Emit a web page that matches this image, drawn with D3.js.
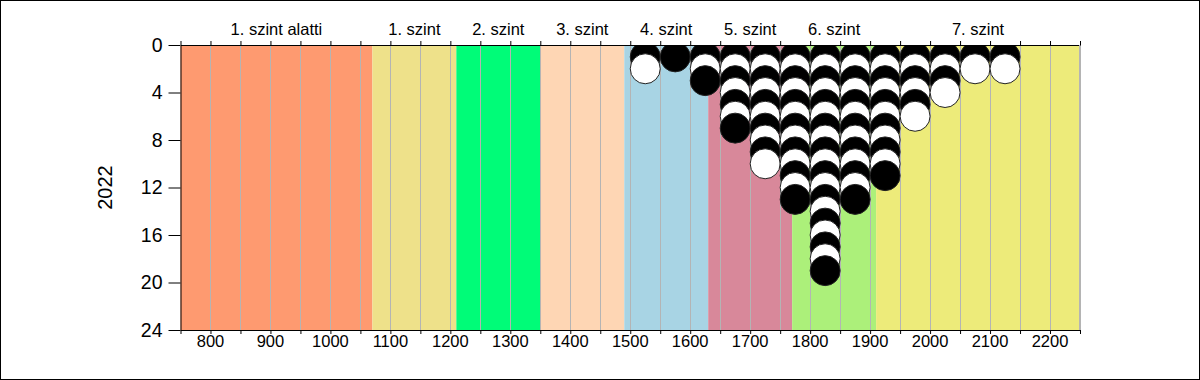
<!DOCTYPE html>
<html><head><meta charset="utf-8">
<script src="https://cdn.jsdelivr.net/npm/d3@7"></script>
<style>body{margin:0;background:#fff;} svg{display:block;font-family:"Liberation Sans",Arial,sans-serif;}</style>
</head><body>
<svg id="chart" width="1200" height="380"></svg>
<script>
// Level bands
const bandNames = ["1. szint alatti","1. szint","2. szint","3. szint","4. szint","5. szint","6. szint","7. szint"];
const bandStarts = [750,1070,1210,1350,1490,1630,1770,1910];
const bandEnds   = [1070,1210,1350,1490,1630,1770,1910,2250];
const bandColors = ["#FE9A70","#EEE18A","#00FC78","#FED6B4","#A8D4E4","#D8889A","#ACF07A","#EDEB7A"];
// Histogram columns (bin centres) and number of students
const binCenters = [1525,1575,1625,1675,1725,1775,1825,1875,1925,1975,2025,2075,2125];
const binCounts  = [2,1,3,7,10,13,19,13,11,6,4,2,2];
const xTicks = [800,900,1000,1100,1200,1300,1400,1500,1600,1700,1800,1900,2000,2100,2200];
const yTicks = [0,4,8,12,16,20,24];
const yLabel = "2022";

const svg = d3.select("#chart");
const L = 180.5, R = 1080, T = 45, B = 330;
const x = d3.scaleLinear().domain([750,2250]).range([L,R]);
const y = d3.scaleLinear().domain([0,24]).range([T,B]);

svg.append("rect").attr("x",0.5).attr("y",0.5).attr("width",1199).attr("height",379)
  .attr("fill","#fff").attr("stroke","#000");

svg.append("defs").append("clipPath").attr("id","plot")
  .append("rect").attr("x",L).attr("y",T).attr("width",R-L).attr("height",B-T);

// bands
svg.append("g").selectAll("rect").data(bandNames).join("rect")
  .attr("x",(d,i)=>x(bandStarts[i])).attr("y",T)
  .attr("width",(d,i)=>x(bandEnds[i])-x(bandStarts[i])).attr("height",B-T)
  .attr("fill",(d,i)=>bandColors[i]);

// grid
const gridVals = d3.range(800,2251,50);
svg.append("g").selectAll("line").data(gridVals).join("line")
  .attr("x1",d=>Math.round(x(d))+0.5).attr("x2",d=>Math.round(x(d))+0.5)
  .attr("y1",T).attr("y2",B).attr("stroke","#b4b4b4").attr("stroke-width",1);

// band labels
svg.append("g").selectAll("text").data(bandNames).join("text")
  .attr("x",(d,i)=>x((bandStarts[i]+bandEnds[i])/2)).attr("y",35)
  .attr("text-anchor","middle").attr("font-size",16.5).attr("fill","#000").text(d=>d);

// circles
const pts = [];
binCenters.forEach((c,j)=>{ for(let k=1;k<=binCounts[j];k++) pts.push({c,k}); });
const r = 15;
svg.append("g").attr("clip-path","url(#plot)").selectAll("circle").data(pts).join("circle")
  .attr("cx",d=>x(d.c)).attr("cy",d=>y(d.k)).attr("r",r)
  .attr("fill",d=>d.k%2===1?"#000":"#fff").attr("stroke","#222").attr("stroke-width",1);

// top axis
const tickSmall = d3.range(750,2251,50);
const gTop = svg.append("g").attr("transform",`translate(0,${T})`)
  .call(d3.axisTop(x).tickValues(tickSmall).tickFormat("").tickSize(4).tickSizeOuter(0));
// bottom axis
const gBot = svg.append("g").attr("transform",`translate(0,${B})`)
  .call(d3.axisBottom(x).tickValues(tickSmall).tickFormat("").tickSize(4).tickSizeOuter(0));
svg.append("g").selectAll("text").data(xTicks).join("text")
  .attr("x",d=>x(d)).attr("y",347).attr("text-anchor","middle")
  .attr("font-size",16.5).attr("fill","#000").text(d=>d);
// left axis
const gLeft = svg.append("g").attr("transform",`translate(${L},0)`)
  .call(d3.axisLeft(y).tickValues(yTicks).tickSize(12).tickPadding(6).tickSizeOuter(0));
gLeft.selectAll("text").attr("font-size",19.5).attr("font-family","Liberation Sans, Arial, sans-serif").attr("fill","#000");
[gTop,gBot,gLeft].forEach(g=>{g.selectAll("path,line").attr("stroke","#000");});
// right border
svg.append("line").attr("x1",R-0.5).attr("x2",R-0.5).attr("y1",T).attr("y2",B).attr("stroke","#b4b4b4");

svg.append("text").attr("transform",`translate(112,${(T+B)/2}) rotate(-90)`)
  .attr("text-anchor","middle").attr("font-size",20).attr("fill","#000").text(yLabel);
</script>
</body></html>
